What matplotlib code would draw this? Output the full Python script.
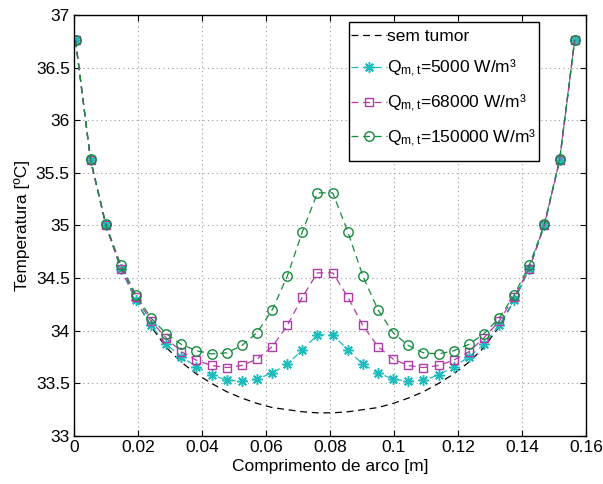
import matplotlib
matplotlib.use("Agg")
import matplotlib.pyplot as plt
from matplotlib.patches import Rectangle

plt.rcParams['font.family'] = ['Liberation Sans', 'DejaVu Sans']
plt.rcParams['mathtext.fontset'] = 'custom'
plt.rcParams['mathtext.rm'] = 'Liberation Sans'
plt.rcParams['mathtext.it'] = 'Liberation Sans'

# arc length positions [m]
x = [0.0005, 0.0052, 0.0100, 0.0147, 0.0194, 0.0241, 0.0289, 0.0336, 0.0383,
     0.0430, 0.0478, 0.0525, 0.0572, 0.0620, 0.0667, 0.0714, 0.0761, 0.0809,
     0.0856, 0.0903, 0.0950, 0.0998, 0.1045, 0.1092, 0.1140, 0.1187, 0.1234,
     0.1281, 0.1329, 0.1376, 0.1423, 0.1470, 0.1518, 0.1565]

t_sem = [36.76, 35.62, 35.00, 34.59, 34.29, 34.04, 33.84, 33.70, 33.59, 33.50,
         33.42, 33.36, 33.31, 33.27, 33.25, 33.23, 33.22,
         33.22, 33.23, 33.25, 33.27, 33.31, 33.36, 33.42, 33.50, 33.59,
         33.70, 33.84, 34.04, 34.29, 34.59, 35.00, 35.62, 36.76]

t_5000 = [36.76, 35.62, 35.00, 34.59, 34.29, 34.05, 33.87, 33.75, 33.66, 33.58,
          33.53, 33.52, 33.54, 33.60, 33.68, 33.82, 33.96,
          33.96, 33.82, 33.68, 33.60, 33.54, 33.52, 33.53, 33.58, 33.66,
          33.75, 33.87, 34.05, 34.29, 34.59, 35.00, 35.62, 36.76]

t_68000 = [36.76, 35.62, 35.00, 34.59, 34.32, 34.09, 33.93, 33.80, 33.72, 33.67,
           33.65, 33.67, 33.73, 33.85, 34.05, 34.32, 34.55,
           34.55, 34.32, 34.05, 33.85, 33.73, 33.67, 33.65, 33.67, 33.72,
           33.80, 33.93, 34.09, 34.32, 34.59, 35.00, 35.62, 36.76]

t_150000 = [36.76, 35.63, 35.01, 34.62, 34.34, 34.12, 33.97, 33.87, 33.81, 33.78,
            33.79, 33.86, 33.98, 34.20, 34.52, 34.94, 35.31,
            35.31, 34.94, 34.52, 34.20, 33.98, 33.86, 33.79, 33.78, 33.81,
            33.87, 33.97, 34.12, 34.34, 34.62, 35.01, 35.63, 36.76]

labels = ['sem tumor',
          r'Q$_{\mathrm{m,t}}$=5000 W/m³',
          r'Q$_{\mathrm{m,t}}$=68000 W/m³',
          r'Q$_{\mathrm{m,t}}$=150000 W/m³']

xticks = [0, 0.02, 0.04, 0.06, 0.08, 0.10, 0.12, 0.14, 0.16]
xticklabels = ['0', '0.02', '0.04', '0.06', '0.08', '0.1', '0.12', '0.14', '0.16']
yticks = [33, 33.5, 34, 34.5, 35, 35.5, 36, 36.5, 37]
yticklabels = ['33', '33.5', '34', '34.5', '35', '35.5', '36', '36.5', '37']

fig = plt.figure(figsize=(6.03, 4.84), dpi=100)
ax = fig.add_axes([0.1226, 0.0992, 0.849, 0.8698])

dash = (0, (5.5, 3.8))
ax.plot(x, t_sem, color='black', lw=0.9, ls=dash, label=labels[0])
ax.plot(x, t_5000, color='#1cbcbc', lw=0.9, ls=dash, marker=(8, 2, 0), ms=7.5,
        mec='#1cbcbc', mfc='#1cbcbc', mew=1.1, label=labels[1])
ax.plot(x, t_68000, color='#b23aa6', lw=0.9, ls=dash, marker='s', ms=5.5,
        mfc='none', mec='#b23aa6', mew=1.0, label=labels[2])
ax.plot(x, t_150000, color='#168a3e', lw=0.9, ls=dash, marker='o', ms=6.8,
        mfc='none', mec='#168a3e', mew=1.0, label=labels[3])

ax.set_xlim(0, 0.16)
ax.set_ylim(33, 37)
ax.set_xticks(xticks)
ax.set_xticklabels(xticklabels)
ax.set_yticks(yticks)
ax.set_yticklabels(yticklabels)
ax.tick_params(direction='in', top=True, right=True, labelsize=12.5,
               length=4, width=0.8, pad=3)
ax.grid(True, ls=(0, (1, 3)), color='#999999', lw=0.8)
for s in ax.spines.values():
    s.set_linewidth(1.0)
    s.set_color('black')

ax.set_xlabel('Comprimento de arco [m]', fontsize=12.5, labelpad=3)
ax.set_ylabel('Temperatura [ºC]', fontsize=12.5, labelpad=4)

# legend frame drawn separately (MATLAB-style tight horizontal padding)
frame = Rectangle((0.5372, 0.6532), 0.9082 - 0.5372, 0.9826 - 0.6532,
                  transform=ax.transAxes, facecolor='white', edgecolor='black',
                  lw=1.0, zorder=4)
ax.add_patch(frame)
leg = ax.legend(loc='upper right', bbox_to_anchor=(0.909, 0.973), fontsize=12.5,
                frameon=False, handlelength=2.05, handletextpad=0.05,
                labelspacing=0.78, borderpad=0.15, borderaxespad=0, numpoints=1)
leg.set_zorder(5)

fig.savefig('out.png', dpi=100)
